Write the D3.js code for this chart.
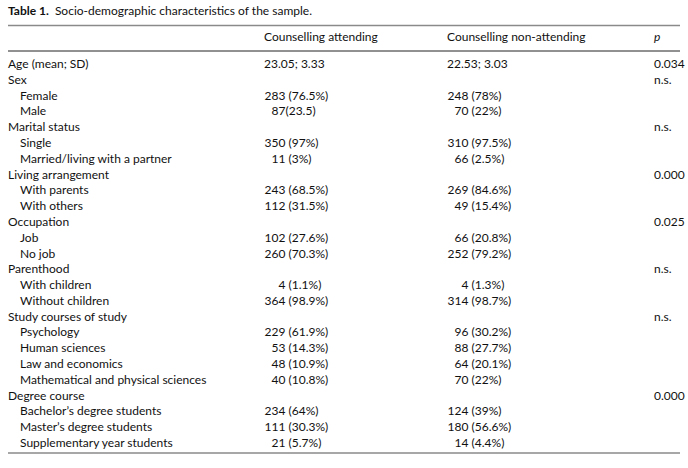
<!DOCTYPE html>
<html>
<head>
<meta charset="utf-8">
<script src="https://cdn.jsdelivr.net/npm/d3@7"></script>
<style>
  html, body { margin: 0; padding: 0; background: #fff; }
  svg { display: block; }
  text { font-family: Lato, "Open Sans", sans-serif; fill: #111; }
</style>
</head>
<body>
<svg id="chart" width="688" height="468"></svg>
<script>
// ---- Data ----
const titleLabel = "Table 1.";
const titleText = "Socio-demographic characteristics of the sample.";
const columnHeaders = ["", "Counselling attending", "Counselling non-attending", "p"];

const groups = ["Age (mean; SD)", "Sex", "Marital status", "Living arrangement",
  "Occupation", "Parenthood", "Study courses of study", "Degree course"];
const pValues = ["0.034", "n.s.", "n.s.", "0.000", "0.025", "n.s.", "n.s.", "0.000"];
const groupAttending = ["23.05; 3.33", "", "", "", "", "", "", ""];
const groupNonAttending = ["22.53; 3.03", "", "", "", "", "", "", ""];

const subcategories = [
  [],
  ["Female", "Male"],
  ["Single", "Married/living with a partner"],
  ["With parents", "With others"],
  ["Job", "No job"],
  ["With children", "Without children"],
  ["Psychology", "Human sciences", "Law and economics", "Mathematical and physical sciences"],
  ["Bachelor\u2019s degree students", "Master\u2019s degree students", "Supplementary year students"]
];
const attending = [
  [],
  ["283 (76.5%)", "87(23.5)"],
  ["350 (97%)", "11 (3%)"],
  ["243 (68.5%)", "112 (31.5%)"],
  ["102 (27.6%)", "260 (70.3%)"],
  ["4 (1.1%)", "364 (98.9%)"],
  ["229 (61.9%)", "53 (14.3%)", "48 (10.9%)", "40 (10.8%)"],
  ["234 (64%)", "111 (30.3%)", "21 (5.7%)"]
];
const nonAttending = [
  [],
  ["248 (78%)", "70 (22%)"],
  ["310 (97.5%)", "66 (2.5%)"],
  ["269 (84.6%)", "49 (15.4%)"],
  ["66 (20.8%)", "252 (79.2%)"],
  ["4 (1.3%)", "314 (98.7%)"],
  ["96 (30.2%)", "88 (27.7%)", "64 (20.1%)", "70 (22%)"],
  ["124 (39%)", "180 (56.6%)", "14 (4.4%)"]
];

// ---- Build rows ----
const rows = [];
groups.forEach((g, i) => {
  rows.push({ label: g, level: 0, a: groupAttending[i], n: groupNonAttending[i], p: pValues[i] });
  subcategories[i].forEach((s, j) => {
    rows.push({ label: s, level: 1, a: attending[i][j], n: nonAttending[i][j], p: "" });
  });
});

// ---- Layout ----
const svg = d3.select("#chart");
const left = 8, right = 680;
const fontSize = 12;

const y = d3.scalePoint()
  .domain(d3.range(rows.length))
  .range([64, 443]);

const colX = d3.scaleOrdinal()
  .domain(["label", "att", "non", "p"])
  .range([left, 264, 447, 654]);
const countEnd = d3.scaleOrdinal()
  .domain(["att", "non"])
  .range([285.5, 468.5]);
const indent = d3.scaleOrdinal().domain([0, 1]).range([0, 12]);

// Title
const title = svg.append("text")
  .attr("x", left).attr("y", 15)
  .style("font-size", fontSize + "px");
title.append("tspan").attr("font-weight", "bold").text(titleLabel);
title.append("tspan").text("\u2002" + titleText);

// Rules
svg.append("line").attr("x1", left).attr("x2", right).attr("y1", 25.5).attr("y2", 25.5)
  .attr("stroke", "#8a8a8a").attr("stroke-width", 1.6);
svg.append("line").attr("x1", left).attr("x2", right).attr("y1", 51).attr("y2", 51)
  .attr("stroke", "#222").attr("stroke-width", 1);
svg.append("line").attr("x1", left).attr("x2", right).attr("y1", 453).attr("y2", 453)
  .attr("stroke", "#8a8a8a").attr("stroke-width", 1.6);

// Header
const headerY = 41;
["att", "non", "p"].forEach((k, i) => {
  svg.append("text")
    .attr("x", colX(k)).attr("y", headerY)
    .style("font-size", fontSize + "px")
    .style("font-style", k === "p" ? "italic" : "normal")
    .text(columnHeaders[i + 1]);
});

// Body
const rowG = svg.selectAll("g.row").data(rows).join("g")
  .attr("class", "row")
  .attr("transform", (d, i) => `translate(0,${y(i) + 4})`);

rowG.append("text")
  .attr("x", d => colX("label") + indent(d.level))
  .style("font-size", fontSize + "px")
  .text(d => d.label);

function drawCell(sel, key) {
  sel.each(function(d) {
    const v = d[key === "att" ? "a" : "n"];
    if (!v) return;
    const g = d3.select(this);
    const m = v.match(/^(\d+)(\s*\(.*)$/);
    if (m) {
      g.append("text").attr("x", countEnd(key)).attr("text-anchor", "end")
        .style("font-size", fontSize + "px").text(m[1]);
      g.append("text").attr("x", countEnd(key)).attr("text-anchor", "start")
        .style("font-size", fontSize + "px").attr("xml:space", "preserve")
        .style("white-space", "pre").text(m[2]);
    } else {
      g.append("text").attr("x", colX(key))
        .style("font-size", fontSize + "px").text(v);
    }
  });
}
drawCell(rowG, "att");
drawCell(rowG, "non");

rowG.filter(d => d.p).append("text")
  .attr("x", colX("p"))
  .style("font-size", fontSize + "px")
  .text(d => d.p);
</script>
</body>
</html>
